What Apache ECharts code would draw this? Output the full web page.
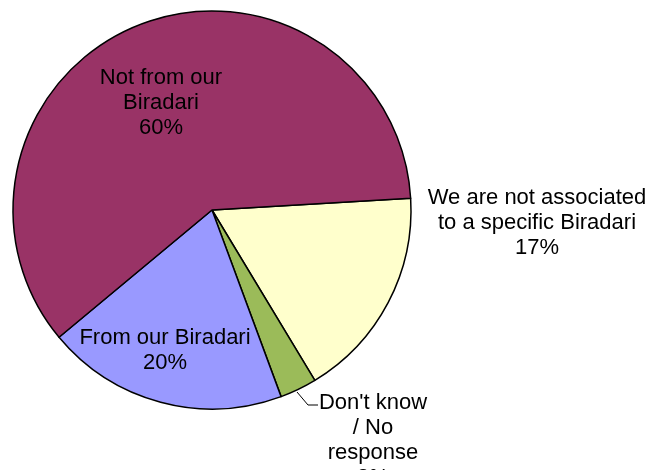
<!DOCTYPE html>
<html>
<head>
<meta charset="utf-8">
<script src="https://cdn.jsdelivr.net/npm/echarts@6/dist/echarts.min.js"></script>
<style>
html, body { margin: 0; padding: 0; background: #fff; }
#chart { width: 650px; height: 470px; }
</style>
</head>
<body>
<div id="chart"></div>
<script>
// slices, clockwise from the right edge
var categories = ['We are not associated\nto a specific Biradari', "Don't know\n/ No\nresponse", 'From our Biradari', 'Not from our\nBiradari'];
var values = [17.3, 3.0, 19.6, 60.1];
var colors = ['#FFFFCC', '#9BBB59', '#9999FF', '#993366'];

// label centres, as placed in the original
var labelPos = [[537, 223], [373, 440], [165, 350], [161, 103]];

var myChart = echarts.init(document.getElementById('chart'));

var seriesData = [];
for (var i = 0; i < categories.length; i++) {
	seriesData.push({
		name: categories[i],
		value: values[i],
		itemStyle: { color: colors[i] },
		labelLine: { show: i == 1 }
	});
}

var option = {
	animation: false,
	series: [{
		type: 'pie',
		center: [212, 210],
		radius: 199,
		startAngle: 3.4,
		clockwise: true,
		data: seriesData,
		itemStyle: { borderColor: '#000', borderWidth: 1.5 },
		label: {
			show: true,
			position: 'outside',
			overflow: 'none',
			width: 300,
			fontFamily: 'Liberation Sans, Arial, sans-serif',
			fontSize: 22,
			lineHeight: 25,
			color: '#000',
			align: 'center',
			formatter: function(p) {
				return p.name + '\n' + Math.round(p.percent) + '%';
			}
		},
		labelLine: {
			lineStyle: { color: '#000', width: 1 }
		},
		labelLayout: function(p) {
			var pos = labelPos[p.dataIndex];
			var res = {
				x: pos[0],
				y: pos[1],
				align: 'center',
				verticalAlign: 'middle'
			};
			if (p.dataIndex == 1) {
				res.labelLinePoints = [[297, 392], [308, 405], [318, 405]];
			}
			return res;
		}
	}]
};
myChart.setOption(option);
</script>
</body>
</html>
